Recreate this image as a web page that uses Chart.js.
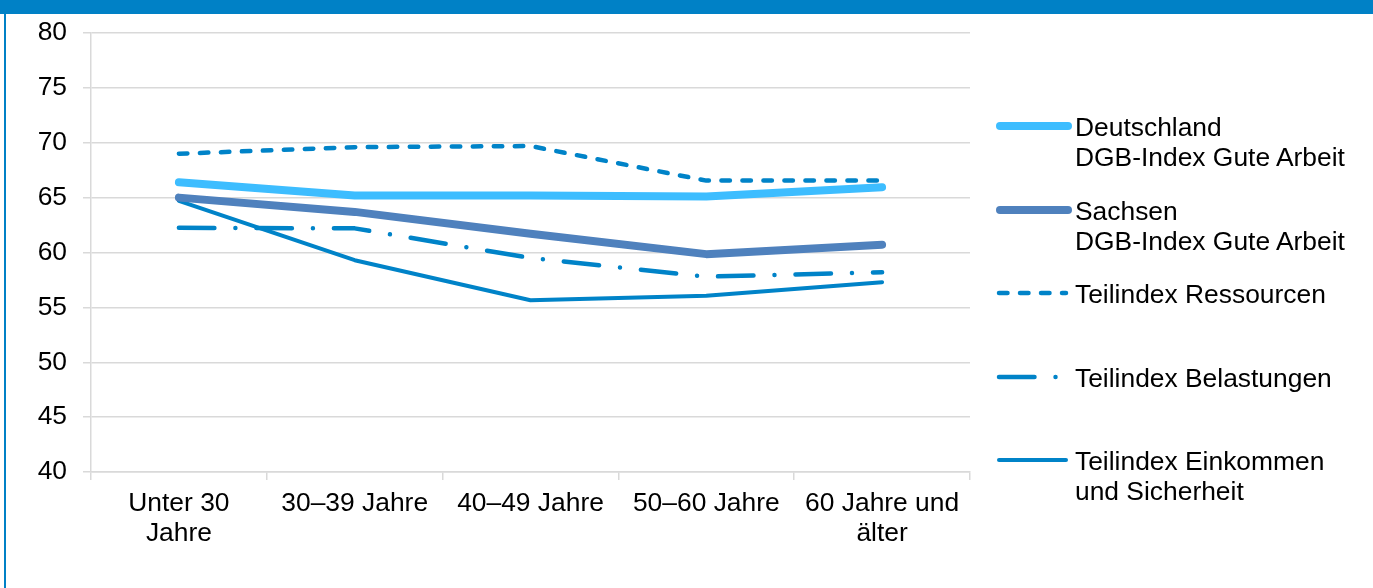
<!DOCTYPE html>
<html>
<head>
<meta charset="utf-8">
<script src="https://cdn.jsdelivr.net/npm/chart.js@4/dist/chart.umd.min.js"></script>
<style>
  html, body { margin: 0; padding: 0; background: #fff; }
  #wrap { position: relative; width: 1373px; height: 588px; overflow: hidden; background: #fff; font-family: "Liberation Sans", Arial, sans-serif; }
  #topband { position: absolute; left: 0; top: 0; width: 1373px; height: 14px; background: #0081C6; }
  #leftline { position: absolute; left: 4px; top: 0; width: 2px; height: 588px; background: #0081C6; }
  #c { position: absolute; left: 0; top: 0; }
  #legend { position: absolute; left: 0; top: 0; width: 1373px; height: 588px; pointer-events: none; }
  .item { position: absolute; left: 994px; }
  .item svg { position: absolute; left: 0; top: 0; }
  .item .txt { position: absolute; left: 81px; top: 0; font-size: 26.4px; line-height: 30px; color: #000; white-space: nowrap; }
</style>
</head>
<body>
<div id="wrap">
  <canvas id="c" width="1373" height="588"></canvas>
  <div id="topband"></div>
  <div id="leftline"></div>
  <div id="legend"></div>
</div>
<script>
const categories = [["Unter 30", "Jahre"], "30–39 Jahre", "40–49 Jahre", "50–60 Jahre", ["60 Jahre und", "älter"]];
const yTicks = [40, 45, 50, 55, 60, 65, 70, 75, 80];

const deutschland = [66.4, 65.2, 65.2, 65.1, 65.95];
const sachsen = [65.0, 63.7, 61.7, 59.85, 60.7];
const ressourcen = [69.0, 69.6, 69.7, 66.55, 66.55];
const belastungen = [62.25, 62.2, 59.5, 57.8, 58.2];
const einkommen = [64.7, 59.3, 55.65, 56.05, 57.3];

const seriesNames = [
  ["Deutschland", "DGB-Index Gute Arbeit"],
  ["Sachsen", "DGB-Index Gute Arbeit"],
  ["Teilindex Ressourcen"],
  ["Teilindex Belastungen"],
  ["Teilindex Einkommen", "und Sicherheit"]
];

const cLight = "#3DBDFF";
const cSachsen = "#4F81BD";
const cMain = "#0083C8";

const dsStyle = [
  { color: cLight, width: 8, dash: [] },
  { color: cSachsen, width: 8, dash: [] },
  { color: cMain, width: 4.5, dash: [8.5, 12.5] },
  { color: cMain, width: 4.5, dash: [35.5, 21, 0.01, 21] },
  { color: cMain, width: 4, dash: [] }
];
const seriesValues = [deutschland, sachsen, ressourcen, belastungen, einkommen];

const datasets = seriesValues.map((vals, i) => ({
  label: seriesNames[i].join(" "),
  data: vals,
  borderColor: dsStyle[i].color,
  backgroundColor: dsStyle[i].color,
  borderWidth: dsStyle[i].width,
  borderDash: dsStyle[i].dash,
  borderCapStyle: "round",
  borderJoinStyle: "round",
  pointRadius: 0,
  pointHoverRadius: 0,
  tension: 0,
  fill: false,
  order: i + 1
}));

const gridColor = "#D9D9D9";
const fontFam = "'Liberation Sans', Arial, sans-serif";

new Chart(document.getElementById("c"), {
  type: "line",
  data: { labels: categories, datasets: datasets },
  options: {
    responsive: false,
    animation: false,
    devicePixelRatio: 1,
    layout: { padding: { top: 33, left: 0, right: 403, bottom: 0 } },
    plugins: { legend: { display: false }, tooltip: { enabled: false } },
    scales: {
      x: {
        offset: true,
        grid: { offset: true, drawOnChartArea: false, color: gridColor, lineWidth: 1.5, tickLength: 8, tickColor: gridColor },
        border: { display: true, color: gridColor, width: 1.5 },
        ticks: { color: "#000", font: { family: fontFam, size: 26.4, lineHeight: 30 / 26.4 }, padding: 9, maxRotation: 0, autoSkip: false },
        afterFit: (s) => { s.height = 588 - 472; }
      },
      y: {
        min: 40, max: 80,
        afterBuildTicks: (s) => { s.ticks = yTicks.map(v => ({ value: v })); },
        grid: { color: gridColor, lineWidth: 1.5, tickLength: 8, tickColor: gridColor },
        border: { display: true, color: gridColor, width: 1.5 },
        ticks: { color: "#000", font: { family: fontFam, size: 26.4 }, padding: 16 },
        afterFit: (s) => { s.width = 91; }
      }
    }
  }
});

// HTML legend built from series
const legend = document.getElementById("legend");
const firstLineY = 127, step = 83.6;
seriesNames.forEach((lines, i) => {
  const item = document.createElement("div");
  item.className = "item";
  const cy = firstLineY + i * step;
  item.style.top = (cy - 15) + "px";
  const st = dsStyle[i];
  const svgNS = "http://www.w3.org/2000/svg";
  const svg = document.createElementNS(svgNS, "svg");
  svg.setAttribute("width", "80"); svg.setAttribute("height", "30");
  const ln = document.createElementNS(svgNS, "line");
  const x1 = st.width > 5 ? 6 : 5, x2 = st.width > 5 ? 74 : 72;
  ln.setAttribute("x1", x1); ln.setAttribute("x2", x2);
  ln.setAttribute("y1", 14); ln.setAttribute("y2", 14);
  ln.setAttribute("stroke", st.color);
  ln.setAttribute("stroke-width", st.width);
  ln.setAttribute("stroke-linecap", "round");
  if (st.dash.length) ln.setAttribute("stroke-dasharray", st.dash.join(" "));
  svg.appendChild(ln);
  item.appendChild(svg);
  const t = document.createElement("div");
  t.className = "txt";
  t.innerHTML = lines.map(l => l.replace(/&/g, "&amp;")).join("<br>");
  item.appendChild(t);
  legend.appendChild(item);
});
</script>
</body>
</html>
